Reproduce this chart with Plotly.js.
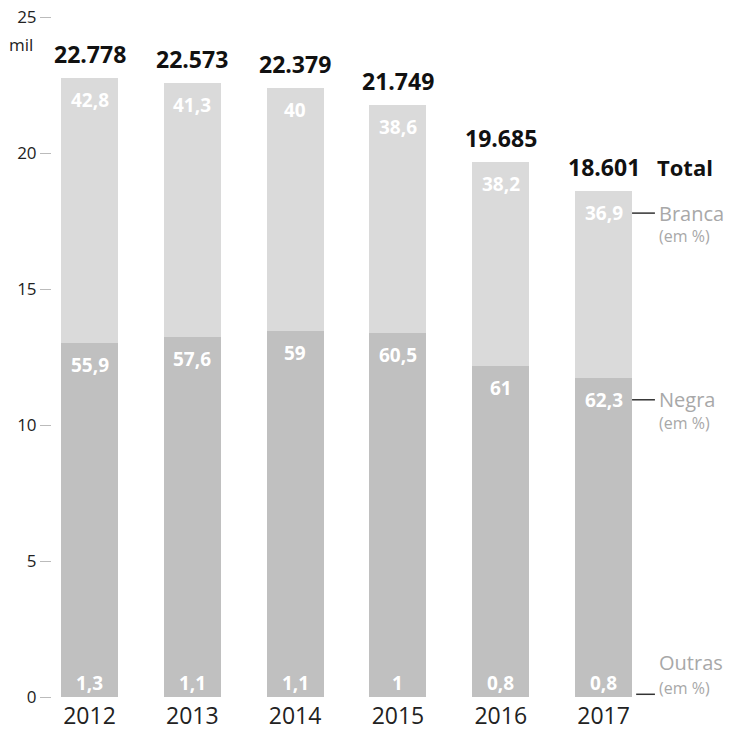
<!DOCTYPE html>
<html>
<head>
<meta charset="utf-8">
<script src="https://cdn.plot.ly/plotly-3.0.1.min.js"></script>
<style>html,body{margin:0;padding:0;background:#fff;}#chart{width:731px;height:731px;}</style>
</head>
<body>
<div id="chart"></div>
<script>
// Data (totals in thousands, shares in %)
const years = ['2012', '2013', '2014', '2015', '2016', '2017'];
const totals = [22.778, 22.573, 22.379, 21.749, 19.685, 18.601];
const outras = [1.3, 1.1, 1.1, 1, 0.8, 0.8];
const negra = [55.9, 57.6, 59, 60.5, 61, 62.3];
const branca = [42.8, 41.3, 40, 38.6, 38.2, 36.9];
const yTicks = [0, 5, 10, 15, 20, 25];

const fmtPct = v => String(v).replace('.', ',');
const fmtTot = v => v.toFixed(3);

const outrasV = totals.map((t, i) => t * outras[i] / 100);
const negraV = totals.map((t, i) => t * negra[i] / 100);
const brancaV = totals.map((t, i) => t - outrasV[i] - negraV[i]);

const colNegra = '#c0c0c0';
const colBranca = '#dadada';
const barW = 0.555;

const traces = [
  {type: 'bar', x: years, y: outrasV, width: barW, marker: {color: colNegra}, hoverinfo: 'skip'},
  {type: 'bar', x: years, y: negraV, width: barW, marker: {color: colNegra}, hoverinfo: 'skip'},
  {type: 'bar', x: years, y: brancaV, width: barW, marker: {color: colBranca}, hoverinfo: 'skip'}
];

const ann = [];
const pctFont = {family: 'Open Sans, sans-serif', size: 19, color: '#ffffff'};
years.forEach((yr, i) => {
  ann.push({xref: 'x', yref: 'y', x: i, y: totals[i], yshift: 24, text: '<b>' + fmtTot(totals[i]) + '</b>', showarrow: false,
    font: {family: 'Open Sans, sans-serif', size: 23, color: '#111'}, xanchor: 'center', yanchor: 'middle'});
  ann.push({xref: 'x', yref: 'y', x: i, y: totals[i], yshift: -22, text: '<b>' + fmtPct(branca[i]) + '</b>', showarrow: false,
    font: pctFont, xanchor: 'center', yanchor: 'middle'});
  ann.push({xref: 'x', yref: 'y', x: i, y: outrasV[i] + negraV[i], yshift: -22, text: '<b>' + fmtPct(negra[i]) + '</b>', showarrow: false,
    font: pctFont, xanchor: 'center', yanchor: 'middle'});
  ann.push({xref: 'x', yref: 'y', x: i, y: 0, yshift: 14, text: '<b>' + fmtPct(outras[i]) + '</b>', showarrow: false,
    font: pctFont, xanchor: 'center', yanchor: 'middle'});
});

const last = years.length - 1;
const labX = 5.52;
const lblFont = {family: 'Open Sans, sans-serif', size: 20, color: '#a8a8a8'};
const subFont = {family: 'Open Sans, sans-serif', size: 16, color: '#a8a8a8'};
const yBr = totals[last];
const yNe = outrasV[last] + negraV[last];
ann.push({xref: 'x', yref: 'y', x: 5.50, y: totals[last], yshift: 24, text: '<b>Total</b>', showarrow: false,
  font: {family: 'Open Sans, sans-serif', size: 22, color: '#111'}, xanchor: 'left', yanchor: 'middle'});
ann.push({xref: 'x', yref: 'y', x: labX, y: yBr, yshift: -22, text: 'Branca', showarrow: false, font: lblFont, xanchor: 'left', yanchor: 'middle'});
ann.push({xref: 'x', yref: 'y', x: labX, y: yBr, yshift: -45, text: '(em %)', showarrow: false, font: subFont, xanchor: 'left', yanchor: 'middle'});
ann.push({xref: 'x', yref: 'y', x: labX, y: yNe, yshift: -22, text: 'Negra', showarrow: false, font: lblFont, xanchor: 'left', yanchor: 'middle'});
ann.push({xref: 'x', yref: 'y', x: labX, y: yNe, yshift: -45, text: '(em %)', showarrow: false, font: subFont, xanchor: 'left', yanchor: 'middle'});
ann.push({xref: 'x', yref: 'y', x: labX, y: 0, yshift: 35, text: 'Outras', showarrow: false, font: lblFont, xanchor: 'left', yanchor: 'middle'});
ann.push({xref: 'x', yref: 'y', x: labX, y: 0, yshift: 9, text: '(em %)', showarrow: false, font: subFont, xanchor: 'left', yanchor: 'middle'});
ann.push({xref: 'paper', yref: 'y', x: -0.066, y: 25, yshift: -27, text: 'mil', showarrow: false,
  font: {family: 'Open Sans, sans-serif', size: 17, color: '#222'}, xanchor: 'left', yanchor: 'middle'});

const shapes = [
  {type: 'line', xref: 'x', yref: 'y', x0: 5 + barW / 2, x1: 5.50, y0: yBr - 22 / 27.2, y1: yBr - 22 / 27.2, line: {color: '#333', width: 1.5}},
  {type: 'line', xref: 'x', yref: 'y', x0: 5 + barW / 2, x1: 5.50, y0: yNe - 22 / 27.2, y1: yNe - 22 / 27.2, line: {color: '#333', width: 1.5}},
  {type: 'line', xref: 'x', yref: 'y', x0: 5 + barW / 2 + 0.04, x1: 5.50, y0: 0.1, y1: 0.1, line: {color: '#333', width: 1.5}}
];

const layout = {
  width: 731, height: 731,
  margin: {l: 52, r: 0, t: 10, b: 31},
  paper_bgcolor: '#ffffff', plot_bgcolor: '#ffffff',
  barmode: 'stack', showlegend: false,
  xaxis: {type: 'category', range: [-0.365, 6.24], showgrid: false, zeroline: false, showline: false, ticks: '',
    tickfont: {family: 'Open Sans, sans-serif', size: 23, color: '#222'}},
  yaxis: {range: [-0.11, 25.26], tickvals: yTicks, ticktext: yTicks.map(String), showgrid: false, zeroline: false,
    showline: false, ticks: 'outside', ticklen: 11, tickwidth: 1, tickcolor: '#bbb',
    tickfont: {family: 'Open Sans, sans-serif', size: 17, color: '#222'}},
  annotations: ann,
  shapes: shapes
};

Plotly.newPlot('chart', traces, layout, {staticPlot: true, displayModeBar: false});
</script>
</body>
</html>
